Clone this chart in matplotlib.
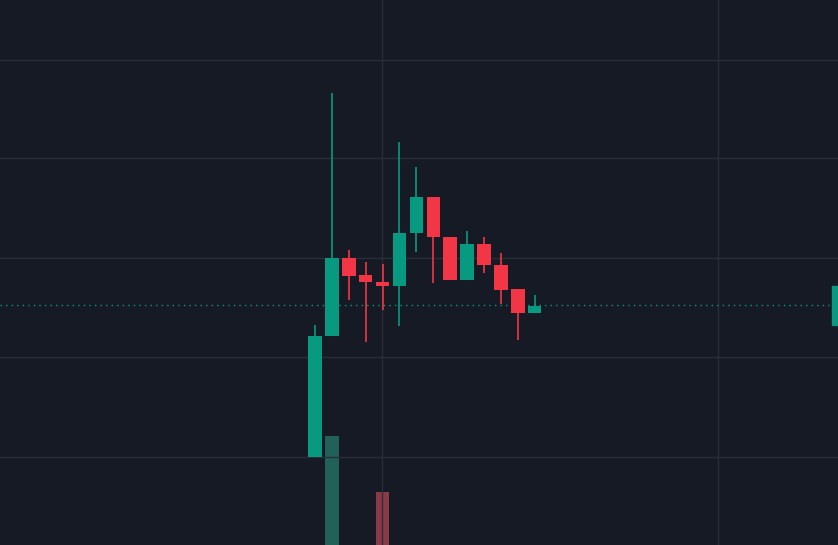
import matplotlib.pyplot as plt
from matplotlib.patches import Rectangle

# OHLC in price units
opens = [8.8, 20.9, 28.7, 27.0, 26.3, 25.9, 31.2, 34.8, 30.8, 26.5, 30.1, 28.0, 25.6, 23.2]
highs = [22.0, 45.2, 29.5, 28.3, 28.1, 40.3, 37.8, 34.8, 30.8, 31.4, 30.8, 29.2, 25.6, 25.0]
lows = [8.8, 20.9, 24.5, 20.3, 23.5, 21.9, 29.3, 26.2, 26.5, 26.5, 27.2, 24.1, 20.5, 23.2]
closes = [20.9, 28.7, 26.9, 26.3, 25.9, 31.2, 34.8, 30.8, 26.5, 30.1, 28.0, 25.5, 23.2, 23.9]
volumes = [0, 2.2, 0, 0, 1.07, 0, 0, 0, 0, 0, 0, 0, 0, 0]
last_price = 24.0

UP = '#089981'
DOWN = '#f23645'
BG = '#161a25'
GRID = '#2a2e39'

fig = plt.figure(figsize=(8.38, 5.45), dpi=100, facecolor=BG)
ax = fig.add_axes([0, 0, 1, 1], facecolor=BG)
vax = ax.twinx()

for y in [8.8, 18.8, 28.7, 38.7, 48.5]:
    ax.axhline(y, color=GRID, lw=1, zorder=0)
for x in [3.96, 23.85]:
    ax.axvline(x, color=GRID, lw=1, zorder=0)

for i, (o, h, l, c, v) in enumerate(zip(opens, highs, lows, closes, volumes)):
    col = UP if c >= o else DOWN
    ax.vlines(i, l, h, color=col, lw=1.2, zorder=3)
    ax.bar(i, max(abs(c - o), 0.4), bottom=min(o, c), width=0.8, color=col, zorder=4)
    if v > 0:
        vax.bar(i, v, width=0.8, color='#22605a' if c >= o else '#8a3a47', zorder=1)

ax.axhline(last_price, color=UP, lw=1, ls=(0, (1, 3)), zorder=2)
ax.add_patch(Rectangle((0.993, 0.403), 0.01, 0.072, transform=ax.transAxes,
                       color=UP, clip_on=False, zorder=5))

ax.set_xlim(-18.64, 30.95)
ax.set_ylim(0, 54.5)
vax.set_ylim(0, 11)
for a in (ax, vax):
    a.axis('off')
ax.set_zorder(vax.get_zorder() + 1)
ax.patch.set_visible(False)
vax.patch.set_facecolor(BG)
vax.patch.set_visible(True)

fig.savefig('out.png', facecolor=BG)
